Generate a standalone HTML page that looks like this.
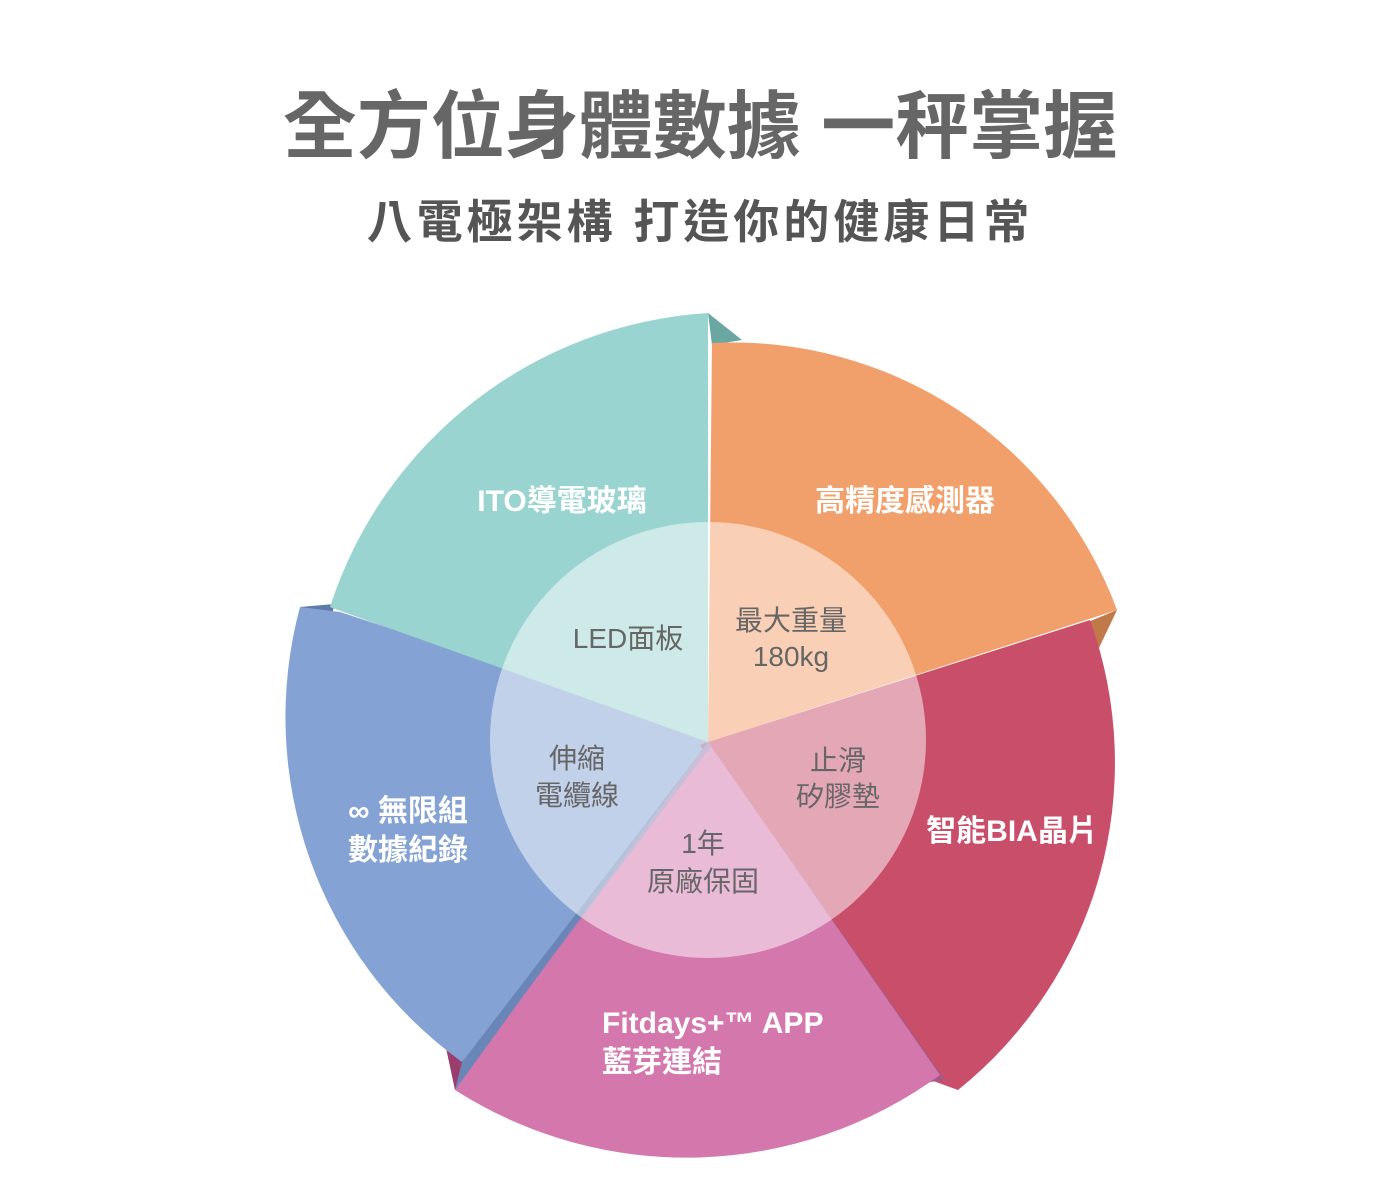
<!DOCTYPE html>
<html><head><meta charset="utf-8">
<style>
html,body{margin:0;padding:0;background:#fff;}
body{width:1400px;height:1190px;overflow:hidden;font-family:"Liberation Sans","Noto Sans CJK TC",sans-serif;}
</style></head>
<body>
<svg width="1400" height="1190" viewBox="0 0 1400 1190" xmlns="http://www.w3.org/2000/svg" style="font-family:'Liberation Sans','Noto Sans CJK TC',sans-serif">
<text x="700" y="152" text-anchor="middle" font-size="74" font-weight="700" fill="#666">全方位身體數據 一秤掌握</text>
<text x="700" y="238" text-anchor="middle" font-size="46" font-weight="700" fill="#555" letter-spacing="4">八電極架構  打造你的健康日常</text>

<!-- 3D edges -->
<polygon points="708,313 742,340 712,345" fill="#6aa6a2"/>
<polygon points="1117,610 1088,622 1098,650" fill="#c07a4a"/>
<polygon points="958,1090 925,1075 945,1072" fill="#8e2f46"/>
<polygon points="455,1090 446,1048 470,1062" fill="#9c3e6d"/>
<polygon points="300,607 334,604 332,618" fill="#5f7aa8"/>

<path d="M708,742 L462,1062 A425,425 0 0 1 300,607 L340,612 L708,732 Z" fill="#84A2D4"/>
<polygon points="708,742 462,1062 455,1090 470,1075" fill="#6a86b8"/>
<polygon points="708,742 330,607 336,604 708,735" fill="#7fb0ac"/>
<path d="M708,742 L330,607 A425,425 0 0 1 708,313 Z" fill="#9AD4D0"/>
<path d="M708,742 L712,343 A410,410 0 0 1 1117,610 Z" fill="#F2A06B"/>
<path d="M708,742 L1090,620 A420,420 0 0 1 958,1090 L925,1078 Z" fill="#C94E6A"/>
<polygon points="708,742 945,1080 930,1082 700,745" fill="#a35a85"/>
<path d="M708,742 L940,1075 A430,430 0 0 1 455,1090 Z" fill="#D477AC"/>
<polygon points="708,742 462,1062 470,1066 712,745" fill="#6a86b8" opacity="0.6"/>

<circle cx="708" cy="740" r="218" fill="#fff" fill-opacity="0.5"/>

<g fill="#fff" font-size="30" font-weight="700">
<text x="562" y="511" text-anchor="middle">ITO導電玻璃</text>
<text x="905" y="511" text-anchor="middle">高精度感測器</text>
<text x="1012" y="841" text-anchor="middle">智能BIA晶片</text>
<text x="602" y="1033">Fitdays+™ APP</text>
<text x="602" y="1072">藍芽連結</text>
<text x="408" y="821" text-anchor="middle">∞ 無限組</text>
<text x="408" y="860" text-anchor="middle">數據紀錄</text>
</g>
<g fill="#666" font-size="28">
<text x="628" y="648" text-anchor="middle">LED面板</text>
<text x="791" y="630" text-anchor="middle">最大重量</text>
<text x="791" y="666" text-anchor="middle">180kg</text>
<text x="838" y="770" text-anchor="middle">止滑</text>
<text x="838" y="806" text-anchor="middle">矽膠墊</text>
<text x="577" y="768" text-anchor="middle">伸縮</text>
<text x="577" y="805" text-anchor="middle">電纜線</text>
<text x="703" y="853" text-anchor="middle">1年</text>
<text x="703" y="891" text-anchor="middle">原廠保固</text>
</g>
</svg>
</body></html>
